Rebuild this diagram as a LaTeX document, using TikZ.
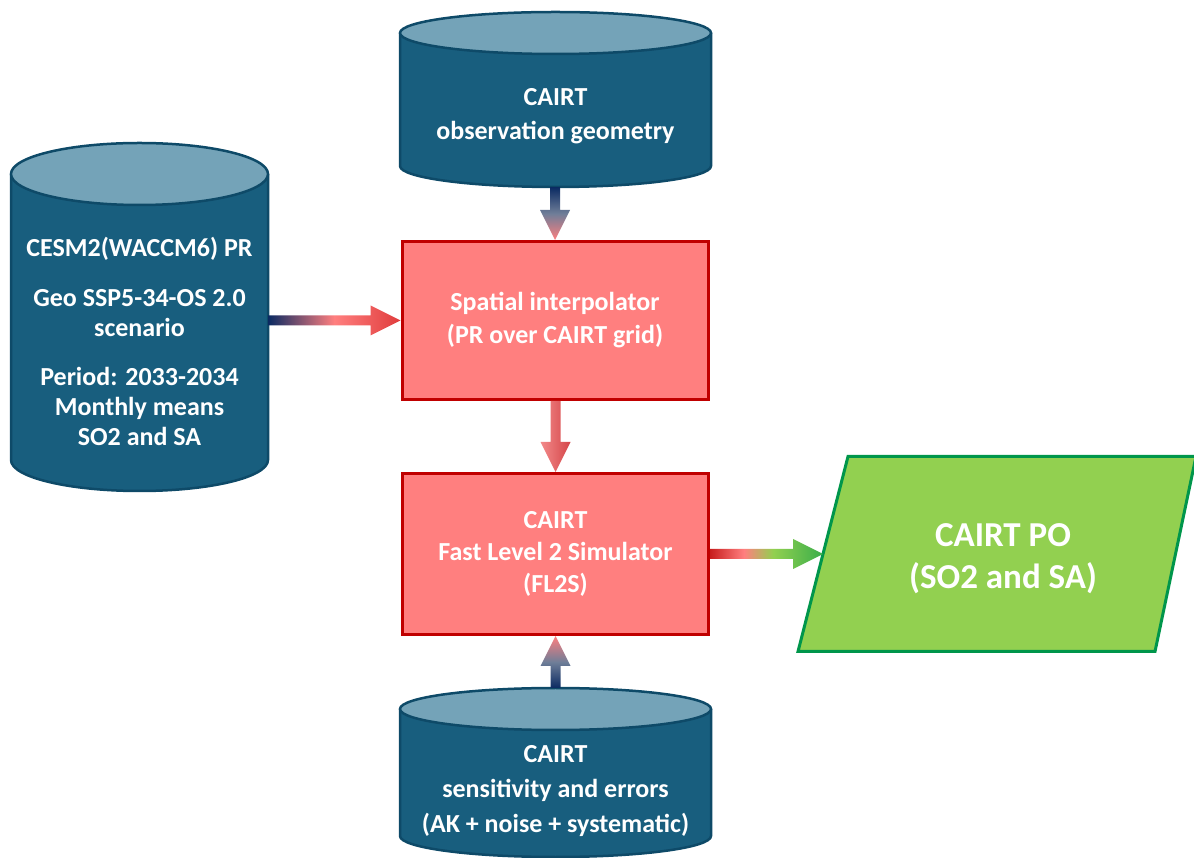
\documentclass[tikz,border=0pt]{standalone}
\usepackage{fontspec}
\setmainfont{Carlito}
\usetikzlibrary{calc}
\definecolor{cbody}{HTML}{185E7E}
\definecolor{ctop}{HTML}{74A3B8}
\definecolor{cline}{HTML}{0E4A68}
\definecolor{boxfill}{HTML}{FF7F7F}
\definecolor{boxline}{HTML}{C00000}
\definecolor{pofill}{HTML}{92D050}
\definecolor{poline}{HTML}{00964B}
\definecolor{navy}{HTML}{0A2A62}
\definecolor{navymid}{HTML}{6F7E98}
\definecolor{salmon}{HTML}{FF7F7F}
\definecolor{redhead}{HTML}{E03C3C}
\definecolor{lgreen}{HTML}{92D050}
\definecolor{dgreen}{HTML}{3AAE4A}
\definecolor{mlight}{HTML}{F28A8A}
\definecolor{mdark}{HTML}{D44548}
\definecolor{startred}{HTML}{C81E1E}
\pgfdeclarehorizontalshading{redgreen}{100bp}{color(0bp)=(startred); color(25bp)=(startred); color(40bp)=(salmon); color(53bp)=(lgreen); color(75bp)=(dgreen); color(100bp)=(dgreen)}
% cylinder: name, cx, Y top centre, Y bottom centre, rx, ry
\newcommand\dbcyl[6]{%
  \fill[cylfill] (#2-#5,#3) -- (#2-#5,#4) arc[start angle=180,end angle=360,x radius=#5,y radius=#6] -- (#2+#5,#3) -- cycle;
  \draw[cylline] (#2-#5,#3) -- (#2-#5,#4) arc[start angle=180,end angle=360,x radius=#5,y radius=#6] -- (#2+#5,#3);
  \draw[cyltop] (#2,#3) ellipse[x radius=#5,y radius=#6];
  \node[inner sep=0pt,outer sep=0pt,minimum width={2*#5},minimum height={#3-#4+2*#6}] (#1) at (#2,{(#3+#4)/2}) {};
}
% horizontal arrow: from, to, shading
\newcommand\harrow[3]{%
  \shade[#3] let \p1=(#1), \p2=(#2) in
   (\x1,\y1+5pt) -- (\x2-30pt,\y1+5pt) -- (\x2-30pt,\y1+15pt) -- (\x2,\y1)
   -- (\x2-30pt,\y1-15pt) -- (\x2-30pt,\y1-5pt) -- (\x1,\y1-5pt) -- cycle;
}
% vertical arrow: from, to, dir (1 down, -1 up), shading
\newcommand\varrow[4]{%
  \shade[#4] let \p1=(#1), \p2=(#2) in
   (\x2-5pt,\y1) -- (\x2-5pt,{\y2+(#3)*30pt}) -- (\x2-15pt,{\y2+(#3)*30pt}) -- (\x2,\y2)
   -- (\x2+15pt,{\y2+(#3)*30pt}) -- (\x2+5pt,{\y2+(#3)*30pt}) -- (\x2+5pt,\y1) -- cycle;
}
\begin{document}
\begin{tikzpicture}[x=1pt,y=1pt,
  cylfill/.style={fill=cbody},
  cylline/.style={draw=cline,line width=2.5pt,line join=round},
  cyltop/.style={fill=ctop,draw=cline,line width=2.5pt},
  txt/.style={text=white,align=center,inner sep=0pt},
  procbox/.style={draw=boxline,fill=boxfill,line width=3pt,minimum width=306pt,inner sep=0pt,text=white,align=center},
  podata/.style={draw=poline,fill=pofill,line width=3pt,line join=miter}]
\useasboundingbox (0,0) rectangle (1194,857);

% cylinders
\dbcyl{tc}{555.5}{824}{691}{155.5}{21}
\dbcyl{lc}{139.5}{683}{397}{128.5}{31}
\dbcyl{bc}{555.5}{148}{21}{155.5}{21}

\node[txt,font=\bfseries\fontsize{26}{34}\selectfont] (tct) at (555.5,741) {CAIRT\\observation geometry};
\node[txt,font=\bfseries\fontsize{26}{30}\selectfont] (lct) at (139.5,516) {CESM2(WACCM6) PR\\[20pt]Geo SSP5-34-OS 2.0\\scenario\\[19pt]Period: 2033-2034\\Monthly means\\SO2 and SA};
\node[txt,font=\bfseries\fontsize{26}{35}\selectfont] (bct) at (555.5,66) {CAIRT\\sensitivity and errors\\(AK + noise + systematic)};

% process boxes
\node[procbox,minimum height=158pt,font=\bfseries\fontsize{26}{33}\selectfont] (b1) at (555,536.5) {Spatial interpolator\\(PR over CAIRT grid)};
\node[procbox,minimum height=161pt,font=\bfseries\fontsize{26}{32}\selectfont] (b2) at (555.5,303) {CAIRT\\Fast Level 2 Simulator\\(FL2S)};

% output parallelogram
\coordinate (pbl) at (798,205.5);
\coordinate (pbr) at (1155,205.5);
\coordinate (ptr) at (1196,400.5);
\coordinate (ptl) at (848,400.5);
\filldraw[podata] (pbl) -- (pbr) -- (ptr) -- (ptl) -- cycle;
\node[txt,font=\bfseries\fontsize{35}{42}\selectfont] (po) at (1003,298) {CAIRT PO\\(SO2 and SA)};
\coordinate (poin) at (intersection cs: first line={(pbl)--(ptl)}, second line={(b2.east)--(b2.east -| pbl)});

% arrows
\harrow{lc.east |- b1.west}{b1.west}{left color=navy,right color=redhead,middle color=salmon}
\varrow{tc.south}{b1.north}{1}{top color=navy,bottom color=salmon,middle color=navymid}
\varrow{b1.south}{b2.north}{1}{left color=mlight,right color=mdark}
\varrow{bc.north}{b2.south}{-1}{bottom color=navy,top color=salmon,middle color=navymid}
\harrow{b2.east}{poin}{shading=redgreen}
\end{tikzpicture}
\end{document}
